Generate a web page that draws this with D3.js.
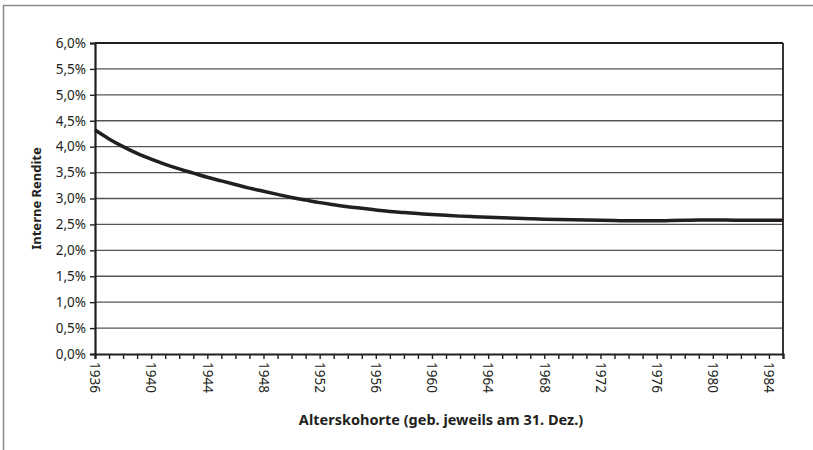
<!DOCTYPE html>
<html>
<head>
<meta charset="utf-8">
<script src="https://cdn.jsdelivr.net/npm/d3@7"></script>
<style>
  body { margin: 0; background: #fff; }
  text { font-family: "Noto Sans", sans-serif; fill: #231f20; }
</style>
</head>
<body>
<script>
// Alterskohorte (Jahrgang) und interne Rendite in Prozent
const years = d3.range(1936, 1986);
const rendite = [
  4.32, 4.15, 4.00, 3.87, 3.76, 3.66, 3.57, 3.49, 3.41, 3.34,
  3.27, 3.20, 3.14, 3.08, 3.02, 2.97, 2.92, 2.88, 2.84, 2.81,
  2.78, 2.75, 2.73, 2.71, 2.69, 2.675, 2.66, 2.65, 2.64, 2.63,
  2.62, 2.61, 2.60, 2.595, 2.59, 2.585, 2.58, 2.575, 2.57, 2.57,
  2.57, 2.575, 2.58, 2.585, 2.585, 2.585, 2.58, 2.58, 2.58, 2.58
];
const yTicks = d3.range(0, 6.01, 0.5);
const xLabelYears = d3.range(1936, 1985, 4);

const W = 813, H = 450;
const margin = {top: 43, right: 30, bottom: 96, left: 95};
const width = W - margin.left - margin.right;
const height = H - margin.top - margin.bottom;

const svg = d3.select("body").append("svg")
  .attr("width", W)
  .attr("height", H);

// outer frame (only left and top visible)
svg.append("path")
  .attr("d", "M3.5," + H + "V5.5H" + W)
  .attr("fill", "none")
  .attr("stroke", "#8a8a8a")
  .attr("stroke-width", 1.5);

const g = svg.append("g")
  .attr("transform", "translate(" + margin.left + "," + margin.top + ")");

const x = d3.scaleLinear().domain([1936, 1985]).range([0, width]);
const y = d3.scaleLinear().domain([0, 6]).range([height, 0]);

// gridlines
g.selectAll(".grid")
  .data(yTicks.filter(d => d > 0))
  .enter().append("line")
  .attr("x1", 0).attr("x2", width)
  .attr("y1", d => y(d)).attr("y2", d => y(d))
  .attr("stroke", d => d === 6 ? "#231f20" : "#555")
  .attr("stroke-width", d => d === 6 ? 2 : 1.4);

// right border of plot
g.append("line")
  .attr("x1", width).attr("x2", width)
  .attr("y1", 0).attr("y2", height)
  .attr("stroke", "#231f20").attr("stroke-width", 1.8);

// y axis
const yAxis = g.append("g")
  .call(d3.axisLeft(y).tickValues(yTicks).tickSize(5).tickPadding(4)
    .tickFormat(d => d3.format(".1f")(d).replace(".", ",") + "%"));
yAxis.select(".domain").attr("stroke", "#231f20").attr("stroke-width", 2.2);
yAxis.selectAll(".tick line").attr("stroke", "#231f20").attr("stroke-width", 1.4);
yAxis.selectAll("text").attr("font-size", 13.5).attr("fill", "#231f20")
  .style("font-family", "'Noto Sans', sans-serif");

// x axis with yearly ticks
const xAxis = g.append("g")
  .attr("transform", "translate(0," + height + ")")
  .call(d3.axisBottom(x).tickValues(years).tickSize(5).tickFormat(""));
xAxis.select(".domain").attr("stroke", "#231f20").attr("stroke-width", 2.2);
xAxis.selectAll(".tick line").attr("stroke", "#231f20").attr("stroke-width", 1.4);

g.selectAll(".xlab")
  .data(xLabelYears)
  .enter().append("text")
  .attr("transform", d => "translate(" + x(d) + "," + (height + 8) + ") rotate(90)")
  .attr("dy", "0.35em")
  .attr("font-size", 13.5)
  .text(d => d);

// line
const line = d3.line()
  .x((d, i) => x(years[i]))
  .y(d => y(d))
  .curve(d3.curveMonotoneX);

g.append("path")
  .datum(rendite)
  .attr("fill", "none")
  .attr("stroke", "#231f20")
  .attr("stroke-width", 3.5)
  .attr("d", line);

// axis titles
svg.append("text")
  .attr("transform", "translate(41," + (margin.top + height / 2) + ") rotate(-90)")
  .attr("text-anchor", "middle")
  .attr("font-size", 13)
  .attr("font-weight", "bold")
  .text("Interne Rendite");

svg.append("text")
  .attr("x", 441)
  .attr("y", 425)
  .attr("text-anchor", "middle")
  .attr("font-size", 14.5)
  .attr("font-weight", "bold")
  .text("Alterskohorte (geb. jeweils am 31. Dez.)");
</script>
</body>
</html>
